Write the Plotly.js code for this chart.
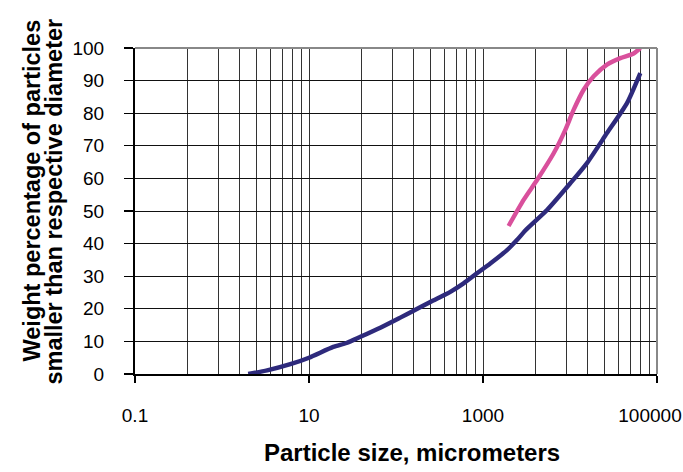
<!DOCTYPE html>
<html>
<head>
<meta charset="utf-8">
<script src="https://cdn.plot.ly/plotly-3.0.1.min.js"></script>
<style>
  html, body { margin: 0; padding: 0; background: #fff; }
  #chart { width: 683px; height: 472px; }
</style>
</head>
<body>
<div id="chart"></div>
<script>
// ---- data ----
const blueX = [2, 3.3, 6.1, 10, 19, 27, 39, 66, 112, 159, 248, 421, 598, 853, 1213, 1888, 2500, 3063, 5445, 10080, 15670, 26600, 45200, 64300];
const blueY = [0, 1.1, 3.0, 5.0, 8.3, 9.5, 11.4, 14.2, 17.3, 19.4, 22.1, 25.2, 27.8, 30.9, 33.9, 38.0, 41.3, 44.0, 50.3, 58.5, 64.7, 73.9, 83.1, 92.3];

const pinkX = [1968, 2930, 4180, 6490, 8840, 11000, 14360, 18720, 26600, 37900, 53800, 64300];
const pinkY = [45.4, 53.4, 59.5, 67.7, 74.9, 81.0, 87.2, 91.3, 94.9, 96.9, 98.3, 100];

const xTickVals = [0.1, 10, 1000, 100000];
const xTickText = ['0.1', '10', '1000', ''];
const xLastTickVal = [100000];
const xLastTickText = ['100000'];
const xGridVals = [0.4, 0.9, 1.6, 2.5, 3.6, 4.9, 6.4, 8.1,
                   40, 90, 160, 250, 360, 490, 640, 810,
                   4000, 9000, 16000, 25000, 36000, 49000, 64000, 81000];
const yTickVals = [0, 10, 20, 30, 40, 50, 60, 70, 80, 90, 100];

const xTitle = 'Particle size, micrometers';
const yTitle1 = 'Weight percentage of particles';
const yTitle2 = 'smaller than respective diameter';

const font = 'Liberation Sans, Arial, sans-serif';

const traces = [
  { x: blueX, y: blueY, type: 'scatter', mode: 'lines', xaxis: 'x', yaxis: 'y',
    line: { color: '#2E2A7C', width: 4.4, shape: 'spline', smoothing: 0.6 },
    hoverinfo: 'skip' },
  // xaxis2 is an identical overlay of xaxis (same type and range)
  { x: pinkX, y: pinkY, type: 'scatter', mode: 'lines', xaxis: 'x2', yaxis: 'y',
    line: { color: '#D9509C', width: 4.4, shape: 'spline', smoothing: 0.6 },
    hoverinfo: 'skip' }
];

const layout = {
  width: 683, height: 472,
  margin: { l: 135, r: 26, t: 48, b: 98 },
  paper_bgcolor: '#fff', plot_bgcolor: '#fff',
  showlegend: false,
  font: { family: font, size: 19, color: '#000' },
  xaxis: {
    type: 'log', range: [-1, 5],
    tickmode: 'array', tickvals: xTickVals, ticktext: xTickText,
    ticks: 'outside', ticklen: 7, tickwidth: 1.2, tickcolor: '#000',
    ticklabelstandoff: 17,
    showgrid: true, gridcolor: '#333', gridwidth: 1,
    minor: { tickmode: 'array', tickvals: xGridVals, ticks: '', showgrid: true, gridcolor: '#333', gridwidth: 1 },
    showline: true, linecolor: '#000', linewidth: 1.5,
    zeroline: false, fixedrange: true,
    tickfont: { family: font, size: 19, color: '#000' }
  },
  xaxis2: {
    type: 'log', range: [-1, 5], overlaying: 'x', anchor: 'y', side: 'bottom',
    tickmode: 'array', tickvals: xLastTickVal, ticktext: xLastTickText,
    ticks: 'outside', ticklen: 7, tickcolor: 'rgba(0,0,0,0)',
    ticklabelstandoff: 17, ticklabelshift: -7, ticklabeloverflow: 'allow',
    showgrid: false, showline: false, zeroline: false, fixedrange: true,
    tickfont: { family: font, size: 19, color: '#000' }
  },
  yaxis: {
    range: [0, 100],
    tickmode: 'array', tickvals: yTickVals,
    ticks: 'outside', ticklen: 9, tickwidth: 1.2, tickcolor: '#000',
    ticklabelstandoff: 16,
    showgrid: true, gridcolor: '#111', gridwidth: 1,
    showline: true, linecolor: '#000', linewidth: 2,
    zeroline: false, fixedrange: true,
    tickfont: { family: font, size: 19, color: '#000' }
  },
  shapes: [
    { type: 'line', xref: 'paper', yref: 'paper', x0: 0, x1: 1, y0: 1, y1: 1,
      line: { color: '#888', width: 2 }, layer: 'above' },
    { type: 'line', xref: 'paper', yref: 'paper', x0: 1, x1: 1, y0: 0, y1: 1,
      line: { color: '#888', width: 2 }, layer: 'above' }
  ],
  annotations: [
    { text: '<b>' + xTitle + '</b>', xref: 'paper', yref: 'paper',
      x: 0.53, y: 0, yshift: -78, xanchor: 'center', yanchor: 'middle',
      showarrow: false, font: { family: font, size: 24, color: '#000' } },
    { text: '<b>' + yTitle1 + '</b>', xref: 'paper', yref: 'paper',
      x: 0, xshift: -103, y: 0.563, xanchor: 'center', yanchor: 'middle',
      textangle: -90, showarrow: false, font: { family: font, size: 23.5, color: '#000' } },
    { text: '<b>' + yTitle2 + '</b>', xref: 'paper', yref: 'paper',
      x: 0, xshift: -81, y: 0.529, xanchor: 'center', yanchor: 'middle',
      textangle: -90, showarrow: false, font: { family: font, size: 23.5, color: '#000' } }
  ]
};

Plotly.newPlot('chart', traces, layout, { staticPlot: true, displayModeBar: false });
</script>
</body>
</html>
